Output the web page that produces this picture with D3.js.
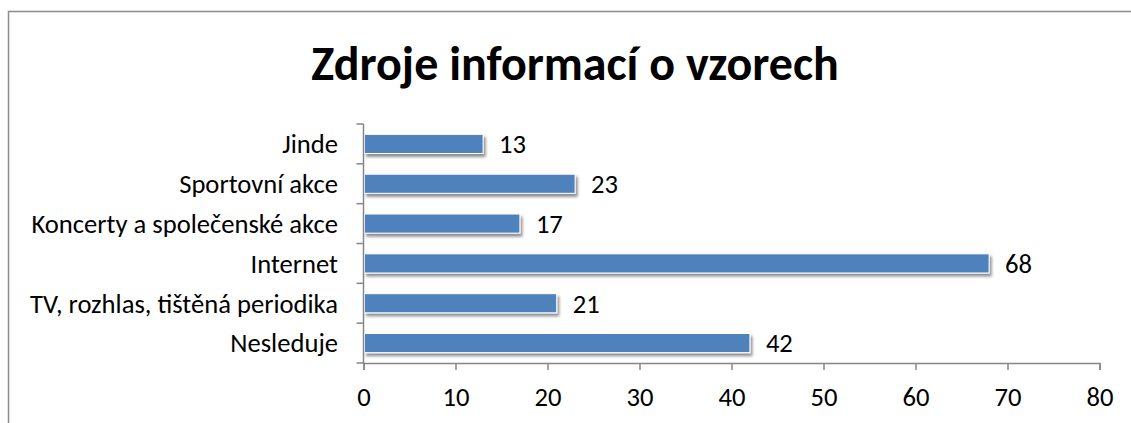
<!DOCTYPE html>
<html>
<head>
<meta charset="utf-8">
<script src="https://cdn.jsdelivr.net/npm/d3@7"></script>
<style>
  body { margin: 0; background: #fff; }
  text { font-family: Carlito, Lato, "Open Sans", sans-serif; }
</style>
</head>
<body>
<div id="chart"></div>
<script>
// categories listed top to bottom as in the picture
var categories = ["Jinde", "Sportovní akce", "Koncerty a společenské akce", "Internet", "TV, rozhlas, tištěná periodika", "Nesleduje"];
var values = [13, 23, 17, 68, 21, 42];
var xTicks = [0, 10, 20, 30, 40, 50, 60, 70, 80];
var title = "Zdroje informací o vzorech";

var width = 1131, height = 423;
var fontSize = 26.6;
var svg = d3.select("#chart").append("svg")
    .attr("width", width)
    .attr("height", height);

var defs = svg.append("defs");
var shadow = defs.append("filter").attr("id", "shadow")
    .attr("x", "-5%").attr("y", "-30%").attr("width", "115%").attr("height", "190%");
shadow.append("feGaussianBlur").attr("in", "SourceAlpha").attr("stdDeviation", 1.6).attr("result", "blur");
shadow.append("feOffset").attr("in", "blur").attr("dx", 2).attr("dy", 3).attr("result", "off");
shadow.append("feComponentTransfer").attr("in", "off").attr("result", "soft")
  .append("feFuncA").attr("type", "linear").attr("slope", 0.45);
var merge = shadow.append("feMerge");
merge.append("feMergeNode").attr("in", "soft");
merge.append("feMergeNode").attr("in", "SourceGraphic");

// chart frame
svg.append("rect")
    .attr("x", 8.5).attr("y", 11.5)
    .attr("width", 1140).attr("height", 440)
    .attr("fill", "none")
    .attr("stroke", "#8c8c8c")
    .attr("stroke-width", 1.5);

svg.append("text")
    .attr("x", 575).attr("y", 80)
    .attr("text-anchor", "middle")
    .style("font-size", "48px")
    .style("font-weight", "bold")
    .text(title);

var plot = {left: 363.5, right: 1099.5, top: 124, bottom: 363};

var x = d3.scaleLinear().domain([0, 80]).range([plot.left, plot.right]);
var y = d3.scaleBand().domain(categories).range([plot.top, plot.bottom]).paddingInner(0.52).paddingOuter(0.26);

// bars
svg.append("g").selectAll("rect")
    .data(values)
    .enter().append("rect")
    .attr("x", x(0) + 1)
    .attr("y", function(d, i) { return y(categories[i]); })
    .attr("width", function(d) { return x(d) - x(0) - 1; })
    .attr("height", y.bandwidth())
    .attr("fill", "#4f81bd")
    .attr("stroke", "#ffffff")
    .attr("stroke-width", 1)
    .attr("filter", "url(#shadow)");

// value labels
svg.append("g").selectAll("text")
    .data(values)
    .enter().append("text")
    .attr("x", function(d) { return x(d) + 16; })
    .attr("y", function(d, i) { return y(categories[i]) + y.bandwidth() / 2; })
    .attr("dy", "0.35em")
    .style("font-size", fontSize + "px")
    .style("fill", "#000")
    .text(function(d) { return d; });

// y axis: line with ticks at band boundaries
var yAxis = svg.append("g").attr("stroke", "#868686").attr("stroke-width", 1.5);
yAxis.append("line")
    .attr("x1", plot.left).attr("x2", plot.left)
    .attr("y1", plot.top).attr("y2", plot.bottom);
var step = (plot.bottom - plot.top) / categories.length;
yAxis.selectAll(".yt")
    .data(d3.range(categories.length + 1))
    .enter().append("line")
    .attr("class", "yt")
    .attr("x1", plot.left - 7).attr("x2", plot.left)
    .attr("y1", function(d) { return plot.top + d * step; })
    .attr("y2", function(d) { return plot.top + d * step; });

svg.append("g").selectAll("text")
    .data(categories)
    .enter().append("text")
    .attr("x", 338)
    .attr("y", function(d) { return y(d) + y.bandwidth() / 2; })
    .attr("dy", "0.35em")
    .attr("text-anchor", "end")
    .style("font-size", fontSize + "px")
    .text(function(d) { return d; });

// x axis
var xAxis = d3.axisBottom(x).tickValues(xTicks).tickSize(7).tickPadding(17);
var gx = svg.append("g")
    .attr("transform", "translate(0," + plot.bottom + ")")
    .call(xAxis);
gx.select(".domain").attr("stroke", "#868686").attr("stroke-width", 1.5);
gx.selectAll(".tick line").attr("stroke", "#868686").attr("stroke-width", 1.5);
gx.selectAll(".tick text")
    .style("font-size", fontSize + "px")
    .style("font-family", "Carlito, Lato, 'Open Sans', sans-serif")
    .attr("fill", "#000");
</script>
</body>
</html>
